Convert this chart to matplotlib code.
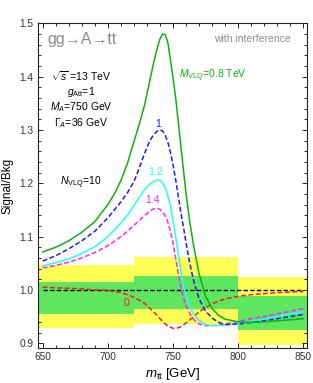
import numpy as np
import matplotlib
matplotlib.use("Agg")
import matplotlib.pyplot as plt
from matplotlib.ticker import MultipleLocator, FixedLocator

plt.rcParams['font.family'] = ['Liberation Sans', 'DejaVu Sans']
plt.rcParams['mathtext.fontset'] = 'custom'
plt.rcParams['mathtext.rm'] = 'Liberation Sans'
plt.rcParams['mathtext.it'] = 'Liberation Sans:italic'
plt.rcParams['mathtext.bf'] = 'Liberation Sans:bold'

# invariant mass grid (GeV)
mtt = [650, 660, 670, 680, 690, 700, 705, 710, 715, 720, 724, 728, 732, 735, 738,
       740, 742, 744, 746, 748, 750, 752, 754, 756, 758, 760, 763, 766, 770, 775,
       780, 785, 790, 800, 810, 820, 830, 840, 850]

# signal/background ratio for each VLQ mass
ratio_08 = [1.071, 1.080, 1.092, 1.108, 1.128, 1.160, 1.180, 1.205, 1.237, 1.278,
            1.310, 1.345, 1.390, 1.425, 1.455, 1.471, 1.480, 1.479, 1.464, 1.432,
            1.398, 1.360, 1.316, 1.270, 1.225, 1.180, 1.125, 1.080, 1.030, 0.988,
            0.965, 0.952, 0.945, 0.940, 0.939, 0.940, 0.942, 0.944, 0.946]
ratio_10 = [1.054, 1.064, 1.077, 1.092, 1.110, 1.135, 1.150, 1.165, 1.182, 1.203,
            1.228, 1.255, 1.279, 1.291, 1.298, 1.300, 1.298, 1.290, 1.277, 1.258,
            1.235, 1.207, 1.176, 1.145, 1.118, 1.088, 1.048, 1.015, 0.983, 0.960,
            0.947, 0.939, 0.935, 0.936, 0.939, 0.942, 0.946, 0.950, 0.954]
ratio_12 = [1.045, 1.051, 1.058, 1.068, 1.081, 1.100, 1.112, 1.126, 1.140, 1.158,
            1.173, 1.187, 1.198, 1.203, 1.206, 1.206, 1.201, 1.192, 1.177, 1.157,
            1.130, 1.100, 1.068, 1.035, 1.008, 0.990, 0.968, 0.954, 0.942, 0.935,
            0.933, 0.933, 0.934, 0.937, 0.941, 0.945, 0.950, 0.955, 0.960]
ratio_14 = [1.041, 1.046, 1.052, 1.060, 1.070, 1.083, 1.091, 1.100, 1.110, 1.121,
            1.130, 1.139, 1.147, 1.152, 1.153, 1.151, 1.146, 1.139, 1.127, 1.110,
            1.088, 1.060, 1.032, 1.005, 0.985, 0.970, 0.955, 0.944, 0.936, 0.933,
            0.933, 0.934, 0.936, 0.941, 0.946, 0.950, 0.955, 0.960, 0.965]
ratio_00 = [1.005, 1.004, 1.003, 1.002, 1.000, 0.999, 0.997, 0.995, 0.991, 0.986,
            0.981, 0.975, 0.966, 0.959, 0.952, 0.946, 0.941, 0.936, 0.932, 0.930,
            0.928, 0.928, 0.929, 0.931, 0.934, 0.938, 0.944, 0.950, 0.959, 0.967,
            0.974, 0.979, 0.983, 0.988, 0.991, 0.993, 0.995, 0.996, 0.997]

# uncertainty bands per bin
bin_edges = [640, 720, 800, 860]
yellow_lo = [0.929, 0.936, 0.896]
yellow_hi = [1.047, 1.061, 1.024]
green_lo = [0.955, 0.964, 0.925]
green_hi = [1.014, 1.026, 0.989]

curves = [
    (ratio_00, '#ff1a1a', (0, (3.2, 1.6))),
    (ratio_14, '#ff22ff', (0, (3.2, 1.6))),
    (ratio_12, '#22ffff', '-'),
    (ratio_10, '#1a1aff', (0, (3.2, 1.6))),
    (ratio_08, '#10b010', '-'),
]

fig = plt.figure(figsize=(3.13, 3.83), dpi=100)
ax = fig.add_axes([0.1205, 0.0914, 0.8605, 0.8477])

for i in range(len(bin_edges) - 1):
    xs = [bin_edges[i], bin_edges[i + 1]]
    ax.fill_between(xs, yellow_lo[i], yellow_hi[i], color='#ffff55', lw=0, zorder=1)
    ax.fill_between(xs, green_lo[i], green_hi[i], color='#5ee65e', lw=0, zorder=2)

ax.plot([650, 850], [1.0, 1.0], color='black', lw=1.0, ls=(0, (3.2, 1.6)), zorder=3)

for vals, col, style in curves:
    ax.plot(mtt, vals, color=col, lw=1.1, ls=style, zorder=4)

ax.set_xlim(646.2, 852.8)
ax.set_ylim(0.891, 1.5)

ax.xaxis.set_major_locator(FixedLocator([650, 700, 750, 800, 850]))
ax.xaxis.set_minor_locator(MultipleLocator(10))
ax.yaxis.set_major_locator(FixedLocator([0.9, 1.0, 1.1, 1.2, 1.3, 1.4, 1.5]))
ax.yaxis.set_minor_locator(MultipleLocator(0.02))
ax.set_yticklabels(['0.9', '1.0', '1.1', '1.2', '1.3', '1.4', '1.5'])
ax.tick_params(which='both', direction='in', top=True, right=True,
               labelsize=7.3, colors='black', labelcolor='#333333', width=0.6)
ax.tick_params(which='major', length=3.5, pad=3)
ax.tick_params(which='minor', length=2)
for sp in ax.spines.values():
    sp.set_linewidth(0.8)
    sp.set_color('#222222')

ax.set_xlabel(r'$m_{\rm tt}$ [GeV]', fontsize=9.5, labelpad=3)
ax.set_ylabel('Signal/Bkg', fontsize=8.5, labelpad=4)

ax.text(653.5, 1.469, 'gg→A→tt', fontsize=11.5, color='#8c8c8c', va='center', ha='left')
ax.text(840, 1.471, 'with interference', fontsize=7.5, color='#8c8c8c', va='center', ha='right')

ax.text(679.5, 1.400, r'$\sqrt{s}$ =13 TeV', fontsize=7.5, ha='center', va='center')
ax.text(679.5, 1.372, r'$g_{\rm Att}$=1', fontsize=7.5, ha='center', va='center')
ax.text(679.5, 1.342, r'$M_{A}$=750 GeV', fontsize=7.5, ha='center', va='center')
ax.text(679.5, 1.312, r'$\Gamma_{A}$=36 GeV', fontsize=7.5, ha='center', va='center')
ax.text(679.5, 1.200, r'$N_{\rm VLQ}$=10', fontsize=7.5, ha='center', va='center')

ax.text(754.5, 1.401, r'$M_{\rm VLQ}$=0.8 TeV', fontsize=7.5, color='#10b010', ha='left', va='center')
ax.text(738.5, 1.311, '1', fontsize=7.5, color='#1a1aff', ha='center', va='center')
ax.text(736.5, 1.222, '1.2', fontsize=7.5, color='#22ffff', ha='center', va='center')
ax.text(734.5, 1.168, '1.4', fontsize=7.5, color='#ff22ff', ha='center', va='center')
ax.text(714.5, 0.975, '0', fontsize=7.5, color='#ff1a1a', ha='center', va='center')

fig.savefig('out.png', dpi=100)
